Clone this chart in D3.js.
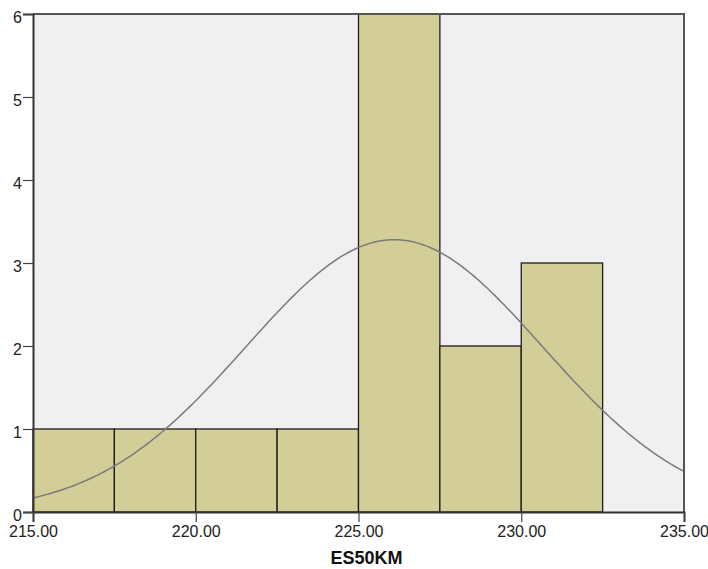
<!DOCTYPE html>
<html>
<head>
<meta charset="utf-8">
<script src="https://cdn.jsdelivr.net/npm/d3@7"></script>
<style>
  body { margin: 0; background: #fff; }
  svg { display: block; }
  .tick text { font-family: "Liberation Sans", Arial, sans-serif; fill: #222; }
</style>
</head>
<body>
<div id="chart"></div>
<script>
// histogram bins (lower/upper edges) and counts
const binStarts = [215, 217.5, 220, 222.5, 225, 227.5, 230];
const binEnds = [217.5, 220, 222.5, 225, 227.5, 230, 232.5];
const counts = [1, 1, 1, 1, 6, 2, 3];
const xTicks = [215, 220, 225, 230, 235];
const yTicks = [0, 1, 2, 3, 4, 5, 6];
// fitted normal
const fitMean = 226.1;
const fitSd = 4.56;
const xTitle = "ES50KM";

const width = 708, height = 569;
const margin = { top: 14, right: 24, bottom: 57, left: 33 };
const w = width - margin.left - margin.right;
const h = height - margin.top - margin.bottom;

const svg = d3.select("#chart").append("svg")
  .attr("width", width)
  .attr("height", height);

const chart = svg.append("g")
  .attr("transform", `translate(${margin.left},${margin.top})`);

const x = d3.scaleLinear().domain([215, 235]).range([0, w]);
const y = d3.scaleLinear().domain([0, 6]).range([h, 0]);

// plot background
chart.append("rect")
  .attr("width", w).attr("height", h)
  .attr("fill", "#f0f0f0");

const bins = counts.map((c, i) => ({ x0: binStarts[i], x1: binEnds[i], n: c }));

chart.selectAll("rect.bar")
  .data(bins)
  .join("rect")
  .attr("class", "bar")
  .attr("x", d => x(d.x0))
  .attr("y", d => y(d.n))
  .attr("width", d => x(d.x1) - x(d.x0))
  .attr("height", d => y(0) - y(d.n))
  .attr("fill", "#d3ce97")
  .attr("stroke", "#1e1e1e")
  .attr("stroke-width", 1.3);

// normal curve scaled to counts
const total = d3.sum(counts);
const binW = binEnds[0] - binStarts[0];
const curveX = d3.range(215, 235.01, 0.1);
const dens = v => total * binW / (fitSd * Math.sqrt(2 * Math.PI)) *
  Math.exp(-0.5 * ((v - fitMean) / fitSd) ** 2);

chart.append("path")
  .datum(curveX)
  .attr("fill", "none")
  .attr("stroke", "#7a7a7a")
  .attr("stroke-width", 1.5)
  .attr("d", d3.line().x(d => x(d)).y(d => y(dens(d))));

// frame (top & right)
chart.append("path")
  .attr("d", `M0,0H${w}V${h}`)
  .attr("fill", "none")
  .attr("stroke", "#555")
  .attr("stroke-width", 2);

const yAxis = chart.append("g")
  .call(d3.axisLeft(y).tickValues(yTicks).tickFormat(d3.format("d")).tickSize(10).tickPadding(1));
const xAxis = chart.append("g")
  .attr("transform", `translate(0,${h})`)
  .call(d3.axisBottom(x).tickValues(xTicks).tickFormat(d3.format(".2f")).tickSize(10).tickPadding(4));

[yAxis, xAxis].forEach(g => {
  g.select(".domain").attr("stroke", "#333").attr("stroke-width", 2);
  g.selectAll(".tick line").attr("stroke", "#444").attr("stroke-width", 1.2);
  g.selectAll(".tick text").attr("font-size", 16);
});
yAxis.selectAll(".tick text").attr("dy", "0.5em");

svg.append("text")
  .attr("x", margin.left + x(225) + 8)
  .attr("y", 564)
  .attr("text-anchor", "middle")
  .attr("font-family", "Liberation Sans, Arial, sans-serif")
  .attr("font-weight", "bold")
  .attr("font-size", 18)
  .attr("fill", "#111")
  .text(xTitle);
</script>
</body>
</html>
